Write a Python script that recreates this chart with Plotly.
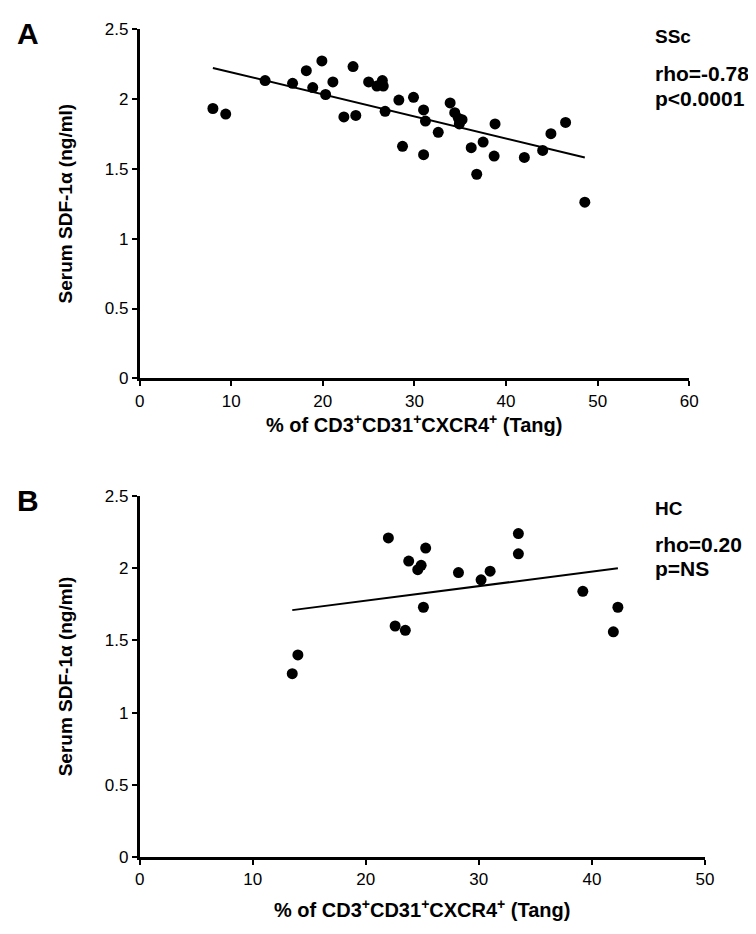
import plotly.graph_objects as go

# ---- Panel A (SSc) data ----
ssc_x = [8.0, 9.4, 13.7, 16.7, 18.2, 18.9, 19.9, 20.3, 21.1, 22.3, 23.6, 23.3, 25.0, 25.9,
         26.5, 26.6, 26.8, 28.3, 28.7, 29.9, 31.0, 31.2, 31.0, 32.6, 33.9, 34.4, 34.8, 35.2,
         34.9, 38.8, 37.5, 36.2, 36.8, 38.7, 42.0, 44.0, 44.9, 46.5, 48.6]
ssc_y = [1.93, 1.89, 2.13, 2.11, 2.20, 2.08, 2.27, 2.03, 2.12, 1.87, 1.88, 2.23, 2.12, 2.09,
         2.13, 2.09, 1.91, 1.99, 1.66, 2.01, 1.92, 1.84, 1.60, 1.76, 1.97, 1.90, 1.86, 1.85,
         1.82, 1.82, 1.69, 1.65, 1.46, 1.59, 1.58, 1.63, 1.75, 1.83, 1.26]
ssc_fit_x = [8.0, 48.6]
ssc_fit_y = [2.22, 1.58]

# ---- Panel B (HC) data ----
hc_x = [13.5, 14.0, 22.0, 22.6, 23.5, 23.8, 25.3, 24.9, 24.6, 25.1, 28.2, 30.2, 31.0,
        33.5, 33.5, 39.2, 41.9, 42.3]
hc_y = [1.27, 1.40, 2.21, 1.60, 1.57, 2.05, 2.14, 2.02, 1.99, 1.73, 1.97, 1.92, 1.98,
        2.24, 2.10, 1.84, 1.56, 1.73]
hc_fit_x = [13.5, 42.3]
hc_fit_y = [1.71, 2.00]

y_ticks = [0, 0.5, 1, 1.5, 2, 2.5]
xa_ticks = [0, 10, 20, 30, 40, 50, 60]
xb_ticks = [0, 10, 20, 30, 40, 50]

FONT = "Arial, Liberation Sans, sans-serif"
W, H = 756, 934

fig = go.Figure()
mk = dict(color="black", size=11)
fig.add_trace(go.Scatter(x=ssc_fit_x, y=ssc_fit_y, mode="lines",
                         line=dict(color="black", width=2), xaxis="x", yaxis="y"))
fig.add_trace(go.Scatter(x=ssc_x, y=ssc_y, mode="markers", marker=mk, xaxis="x", yaxis="y"))
fig.add_trace(go.Scatter(x=hc_fit_x, y=hc_fit_y, mode="lines",
                         line=dict(color="black", width=2), xaxis="x2", yaxis="y2"))
fig.add_trace(go.Scatter(x=hc_x, y=hc_y, mode="markers", marker=mk, xaxis="x2", yaxis="y2"))

xtitle = "% of CD3<sup>+</sup>CD31<sup>+</sup>CXCR4<sup>+</sup> (Tang)"
ytitle = "Serum SDF-1α (ng/ml)"

def xax(domain, rng, ticks, anchor):
    return dict(domain=domain, range=rng, tickvals=ticks, anchor=anchor,
                showline=True, linecolor="black", linewidth=2.5, mirror=False,
                ticks="outside", ticklen=5, tickwidth=2, tickcolor="black",
                showgrid=False, zeroline=False,
                tickfont=dict(family=FONT, size=17, color="black"))

def yax(domain, anchor):
    return dict(domain=domain, range=[0, 2.5], tickvals=y_ticks, anchor=anchor,
                showline=True, linecolor="black", linewidth=2.5,
                ticks="outside", ticklen=5, tickwidth=2, tickcolor="black",
                showgrid=False, zeroline=False,
                tickfont=dict(family=FONT, size=17, color="black"),
                title=dict(text=ytitle, standoff=28,
                           font=dict(family=FONT, size=19, color="black", weight="bold")))

fig.update_layout(
    width=W, height=H, margin=dict(l=0, r=0, t=0, b=0),
    paper_bgcolor="white", plot_bgcolor="white", showlegend=False,
    font=dict(family=FONT, color="black"),
    xaxis=xax([129 / W, 689 / W], [0, 60], xa_ticks, "y"),
    yaxis=yax([1 - 369 / H, 1 - 12 / H], "x"),
    xaxis2=xax([129 / W, 705 / W], [0, 50], xb_ticks, "y2"),
    yaxis2=yax([1 - 857.5 / H, 1 - 489 / H], "x2"),
)

def ann(text, px, py, size=18, anchor="left"):
    fig.add_annotation(text=text, xref="paper", yref="paper",
                       x=px / W, y=1 - py / H, xanchor=anchor, yanchor="middle",
                       showarrow=False,
                       font=dict(family=FONT, size=size, color="black", weight="bold"))

# x-axis titles (annotations for precise positioning)
ann(xtitle, (129 + 689) / 2, 415, size=20, anchor="center")
ann(xtitle, (129 + 705) / 2, 910, size=20, anchor="center")

ann("A", 2, 17, size=30)
ann("B", 2, 494, size=30)
ann("SSc", 652, 20, size=19)
ann("rho=-0.78", 652, 58, size=21)
ann("p&lt;0.0001", 652, 83, size=21)
ann("HC", 652, 502, size=19)
ann("rho=0.20", 652, 538, size=21)
ann("p=NS", 652, 563, size=21)

fig.write_html("out.html")
